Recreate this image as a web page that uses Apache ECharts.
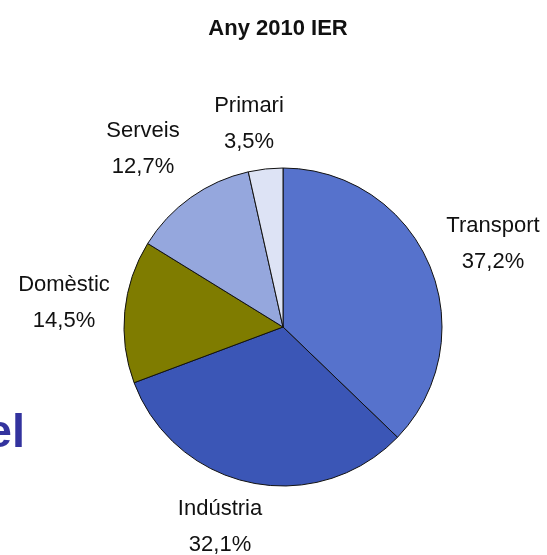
<!DOCTYPE html>
<html>
<head>
<meta charset="utf-8">
<script src="https://cdn.jsdelivr.net/npm/echarts@6/dist/echarts.min.js"></script>
<style>
  html, body { margin: 0; padding: 0; background: #fff; }
  #chart { width: 547px; height: 555px; }
</style>
</head>
<body>
<div id="chart"></div>
<script>
// dades: consum per sectors, any 2010
var sectors = ['Transport', 'Indústria', 'Domèstic', 'Serveis', 'Primari'];
var percents = [37.2, 32.1, 14.5, 12.7, 3.5];
var colors = ['#5672cc', '#3b56b6', '#7f7c00', '#95a7dd', '#dde3f5'];

// posicio de les etiquetes (centre del bloc de text)
var labelPos = [[493, 244], [220, 527], [64, 303], [143, 149], [249, 124]];

var myChart = echarts.init(document.getElementById('chart'));

var pieData = sectors.map(function (name, i) {
    return { name: name, value: percents[i], itemStyle: { color: colors[i] } };
});

var option = {
    animation: false,
    title: {
        text: 'Any 2010 IER',
        left: 273,
        top: 13,
        textAlign: 'center',
        textStyle: {
            fontFamily: 'Liberation Sans',
            fontWeight: 'bold',
            fontSize: 22,
            color: '#111'
        }
    },
    graphic: [{
        type: 'text',
        right: 522,
        top: 411,
        style: {
            text: 'el',
            fontFamily: 'Liberation Sans',
            fontWeight: 'bold',
            fontSize: 47,
            fill: '#33339e'
        }
    }],
    series: [{
        type: 'pie',
        center: [283, 327],
        radius: 159,
        startAngle: 90,
        clockwise: true,
        data: pieData,
        itemStyle: {
            borderColor: '#111',
            borderWidth: 1
        },
        label: {
            show: true,
            position: 'outside',
            overflow: 'none',
            fontFamily: 'Liberation Sans',
            fontSize: 22,
            lineHeight: 36,
            color: '#111',
            formatter: function (p) {
                return p.name + '\n' + p.value.toFixed(1).replace('.', ',') + '%';
            }
        },
        labelLine: { show: false },
        labelLayout: function (params) {
            var pos = labelPos[params.dataIndex];
            return { x: pos[0], y: pos[1], align: 'center', verticalAlign: 'middle' };
        },
        emphasis: { disabled: true }
    }]
};

myChart.setOption(option);
window.onresize = function () {
    myChart.resize();
};
</script>
</body>
</html>
